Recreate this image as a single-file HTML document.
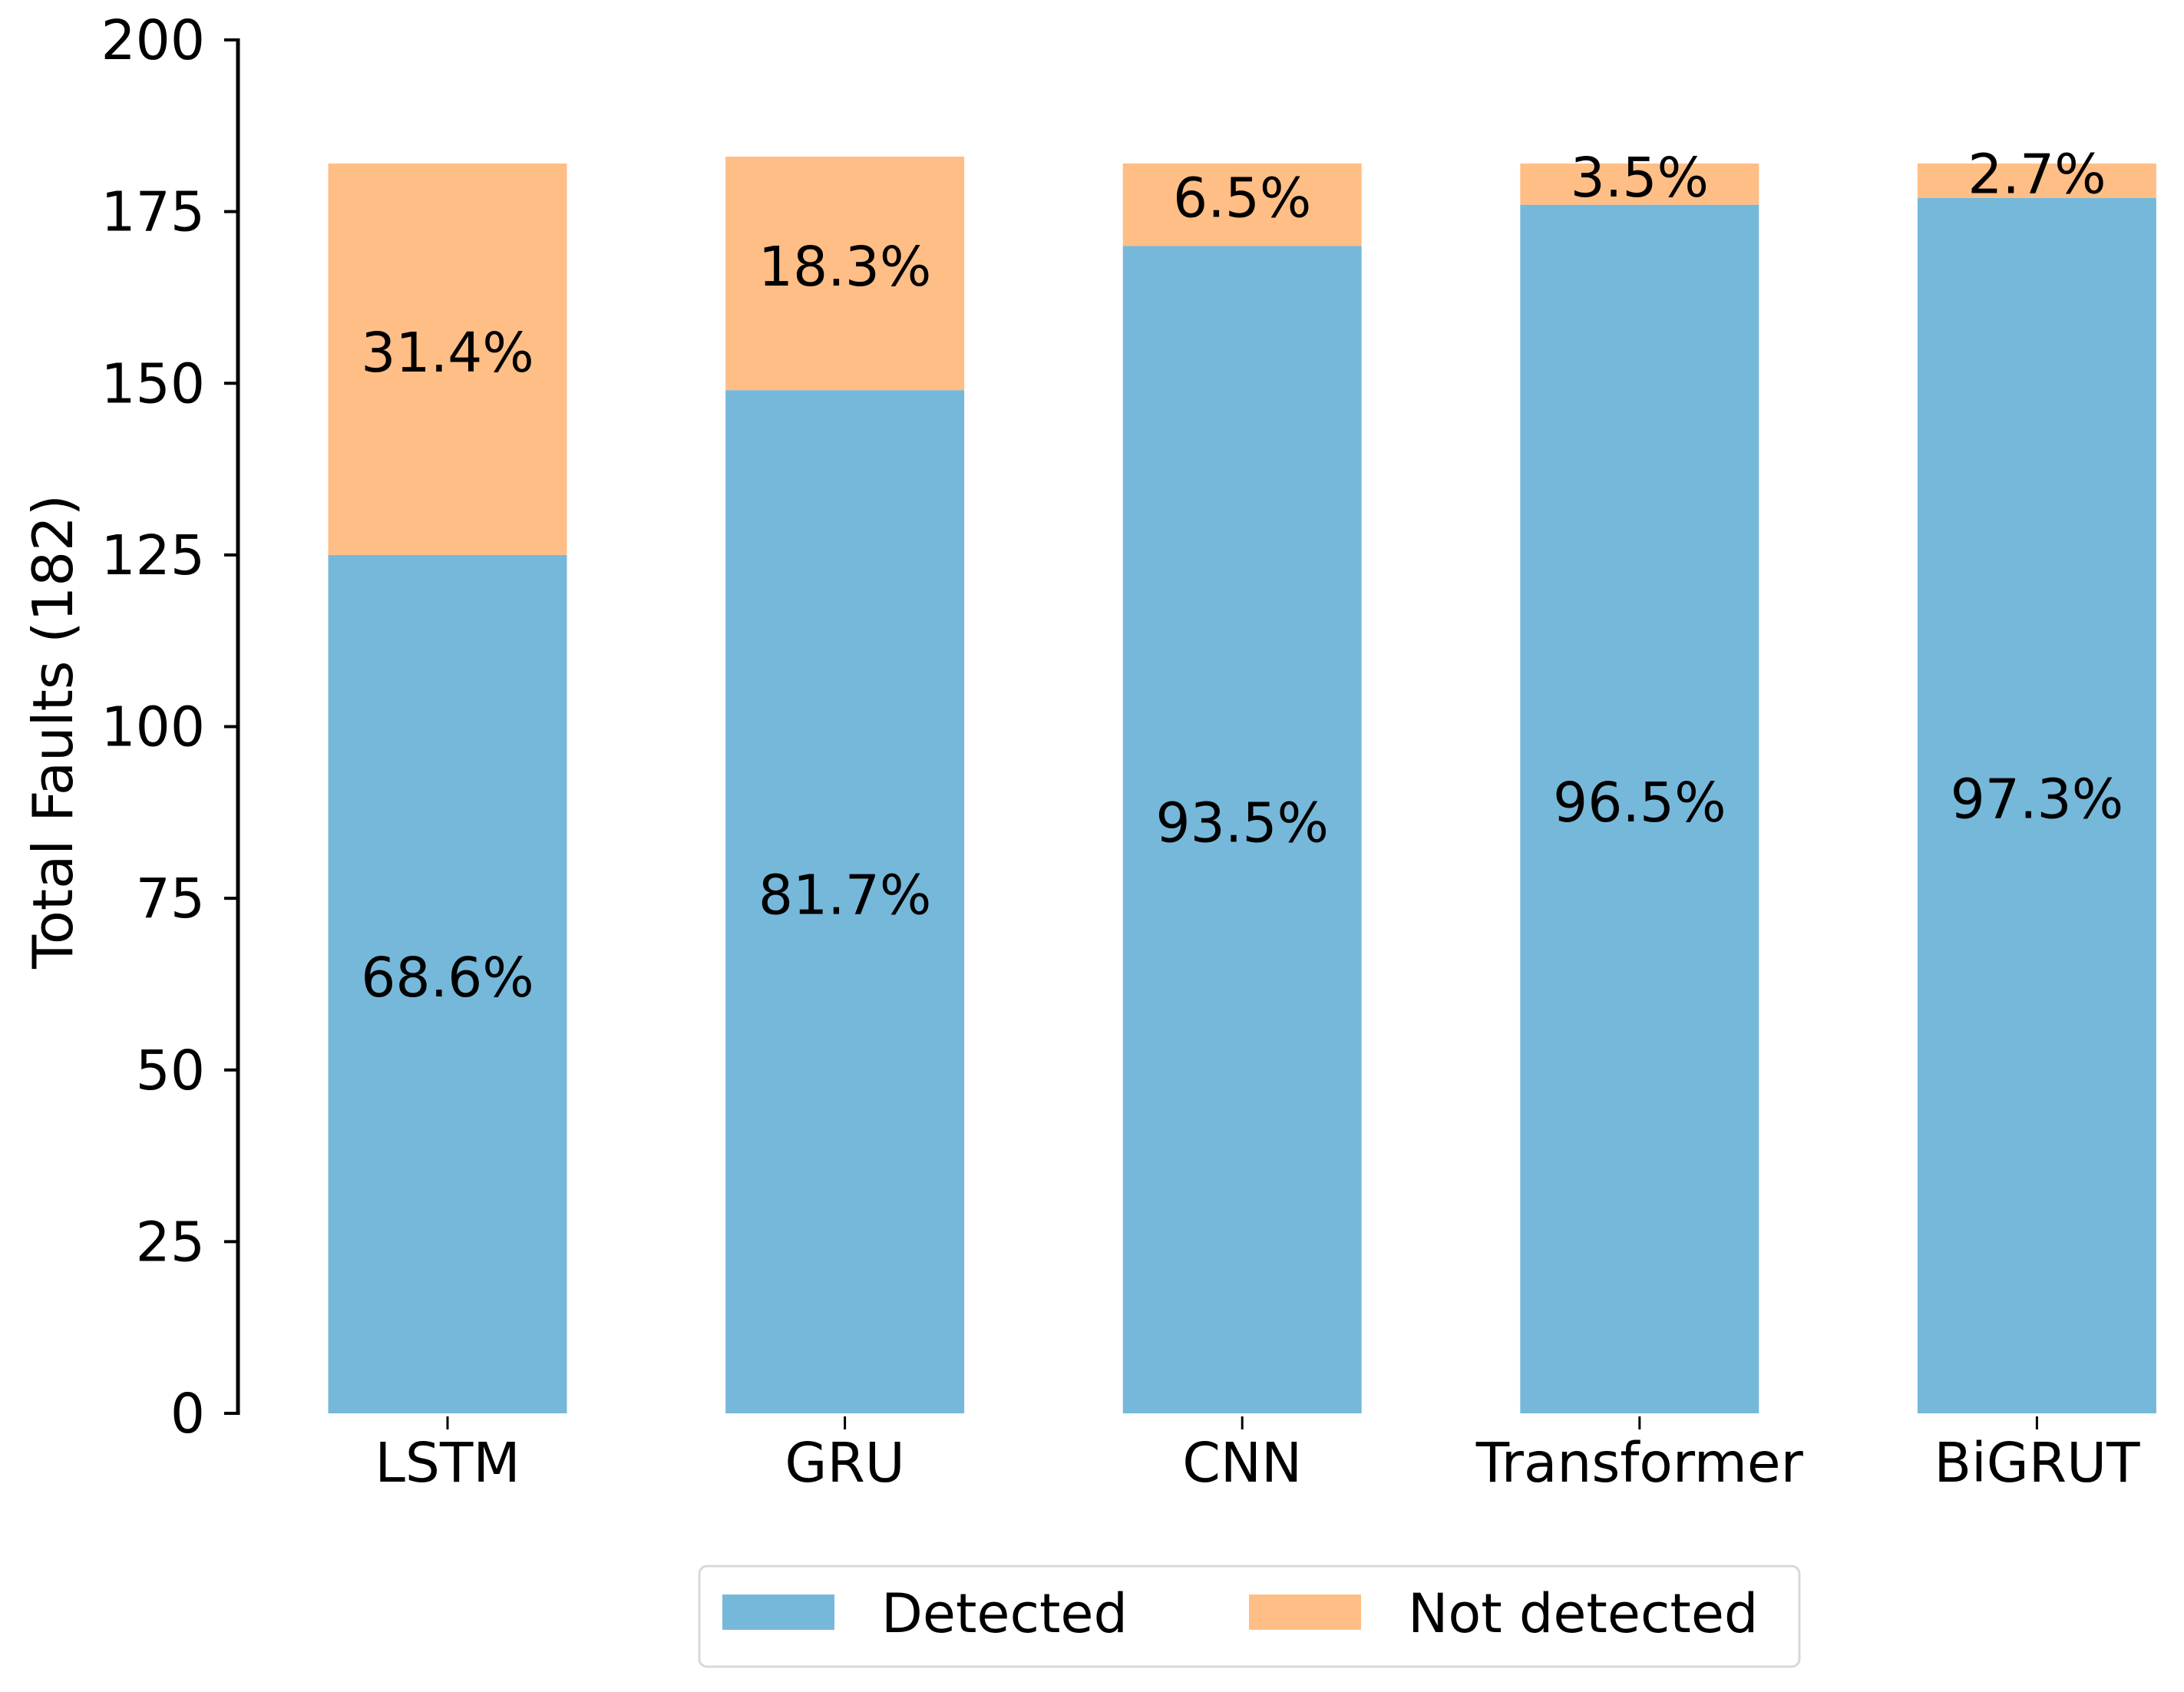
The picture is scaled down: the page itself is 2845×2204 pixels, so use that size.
<!DOCTYPE html>
<html><head><meta charset="utf-8">
<style>
html,body{margin:0;padding:0;background:#fff;}
svg{display:block;}
text{font-family:"DejaVu Sans","Liberation Sans",sans-serif;fill:#000;}
</style></head>
<body>
<svg id="chart" width="2845" height="2204" viewBox="0 0 2845 2204" xmlns="http://www.w3.org/2000/svg">
<g id="plot"></g>
<g id="legend">
  <rect x="911" y="2040" width="1433" height="131" rx="10" fill="#fff" stroke="#d8d8d8" stroke-width="3"/>
  <rect x="941" y="2077" width="146" height="46" fill="#76b8da"/>
  <text x="1148" y="2126" font-size="70">Detected</text>
  <rect x="1627" y="2077" width="146" height="46" fill="#ffbe85"/>
  <text x="1834" y="2126" font-size="70">Not detected</text>
</g>
<text transform="translate(94,953) rotate(-90)" text-anchor="middle" font-size="72">Total Faults (182)</text>
</svg>
<script>
const categories = ["LSTM","GRU","CNN","Transformer","BiGRUT"];
const detected = [125,149,170,176,177];
const notDetected = [57,34,12,6,5];
const detectedLabels = ["68.6%","81.7%","93.5%","96.5%","97.3%"];
const notDetectedLabels = ["31.4%","18.3%","6.5%","3.5%","2.7%"];
const yTicks = [0,25,50,75,100,125,150,175,200];

const NS = "http://www.w3.org/2000/svg";
const plot = document.getElementById('plot');
const y0px = 1841, y200px = 52;
function y(v){ return y0px - (v/200)*(y0px - y200px); }
function x(i){ return 583 + i*517.6; }
const barW = 311;
function mk(tag, attrs){ const e=document.createElementNS(NS,tag); for(const k in attrs) e.setAttribute(k,attrs[k]); plot.appendChild(e); return e; }

categories.forEach((c,i)=>{
  const cx = x(i);
  const b = mk('rect',{x:cx-barW/2,y:y(detected[i]),width:barW,height:y(0)-y(detected[i]),fill:'#76b8da'});
  
  
  const top = detected[i]+notDetected[i];
  const o = mk('rect',{x:cx-barW/2,y:y(top),width:barW,height:y(detected[i])-y(top),fill:'#ffbe85'});
  
  
  const t1 = mk('text',{x:cx,y:y(detected[i]/2)+16,'text-anchor':'middle','font-size':71});
  t1.textContent = detectedLabels[i];
  
  
  const t2 = mk('text',{x:cx,y:y(detected[i]+notDetected[i]/2)+16,'text-anchor':'middle','font-size':71});
  t2.textContent = notDetectedLabels[i];
  
  
  const tk = mk('line',{x1:cx,x2:cx,y1:1845,y2:1862,stroke:'#000','stroke-width':3});
  
  
  const tl = mk('text',{x:cx,y:1930,'text-anchor':'middle','font-size':71});
  tl.textContent = c;
  
  
});

const spine = mk('line',{x1:310,x2:310,y1:y(200)-2,y2:y(0)+2,stroke:'#000','stroke-width':5});


yTicks.forEach(v=>{
  const t = mk('line',{x1:292,x2:312,y1:y(v),y2:y(v),stroke:'#000','stroke-width':4});
  
  
  const l = mk('text',{x:267,y:y(v)+25,'text-anchor':'end','font-size':71});
  l.textContent = v;
  
  
});
</script>
</body></html>
